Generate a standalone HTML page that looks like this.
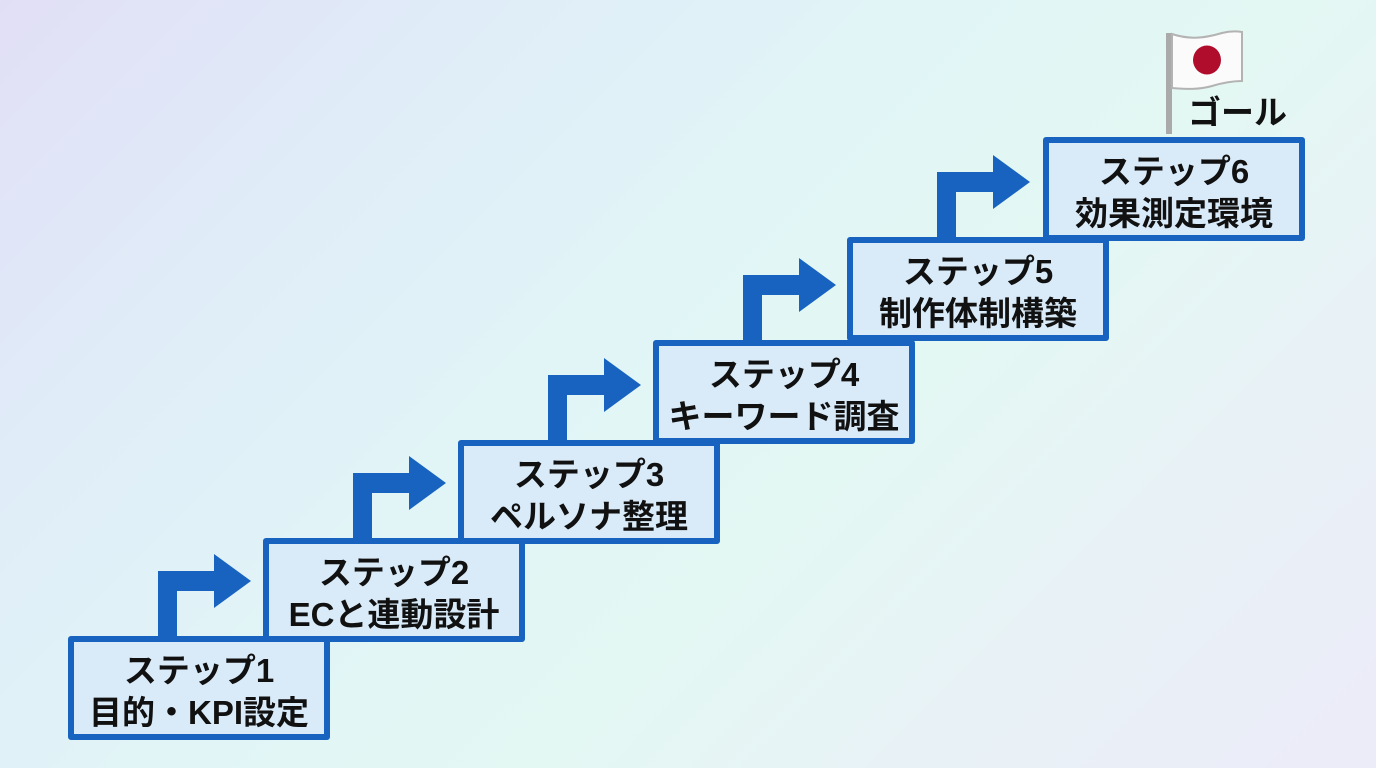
<!DOCTYPE html>
<html>
<head>
<meta charset="utf-8">
<style>
  html, body { margin:0; padding:0; }
  body {
    width:1376px; height:768px; overflow:hidden; position:relative;
    background: linear-gradient(135deg, #e1dff6 0%, #e0eef8 25%, #e1f5f6 45%, #e3f8f3 60%, #e8f2f6 78%, #ecebf8 100%);
    font-family: "Liberation Sans", "Noto Sans CJK JP", sans-serif;
  }
  .box {
    position:absolute; width:262px; height:104px; box-sizing:border-box;
    border:6px solid #1763bf; border-radius:3px; background:#d9ebf9;
  }
  .box .t {
    position:absolute; left:-6px; right:-6px; top:8px;
    text-align:center; font-weight:700; font-size:33px; line-height:42px; color:#111;
    font-family: "Liberation Sans", "Noto Sans CJK JP", sans-serif;
    white-space:nowrap;
  }
  svg { position:absolute; left:0; top:0; }
  .goal {
    position:absolute; left:1188px; top:95px; font-size:33px; line-height:36px;
    font-weight:700; color:#111; white-space:nowrap;
    font-family: "Liberation Sans", "Noto Sans CJK JP", sans-serif;
  }
</style>
</head>
<body>
<svg width="1376" height="768" viewBox="0 0 1376 768">
  <g fill="#1763bf">
    <polygon points="158,639 158,571 214,571 214,554 251,581 214,608 214,591 177,591 177,639"/>
    <polygon points="353,541 353,473 409,473 409,456 446,483 409,510 409,493 372,493 372,541"/>
    <polygon points="548,443 548,375 604,375 604,358 641,385 604,412 604,395 567,395 567,443"/>
    <polygon points="743,343 743,275 799,275 799,258 836,285 799,312 799,295 762,295 762,343"/>
    <polygon points="937,240 937,172 993,172 993,155 1030,182 993,209 993,192 956,192 956,240"/>
  </g>
  <!-- flag -->
  <rect x="1166" y="33" width="6" height="101" fill="#aaaaaa"/>
  <path d="M1172,34 C1190,40 1205,38 1222,33 C1230,31 1236,31 1242,32 L1242,81 C1232,81 1222,83 1212,86 C1198,90 1186,89 1172,88 Z"
        fill="#fbfbfb" stroke="#b3b3b3" stroke-width="2"/>
  <ellipse cx="1207" cy="60" rx="14" ry="14.5" fill="#b00d2c"/>
</svg>

<div class="goal">ゴール</div>

<div class="box" style="left:68px; top:636px;"><div class="t">ステップ1<br>目的・KPI設定</div></div>
<div class="box" style="left:263px; top:538px;"><div class="t">ステップ2<br>ECと連動設計</div></div>
<div class="box" style="left:458px; top:440px;"><div class="t">ステップ3<br>ペルソナ整理</div></div>
<div class="box" style="left:653px; top:340px;"><div class="t">ステップ4<br>キーワード調査</div></div>
<div class="box" style="left:847px; top:237px;"><div class="t">ステップ5<br>制作体制構築</div></div>
<div class="box" style="left:1043px; top:137px;"><div class="t">ステップ6<br>効果測定環境</div></div>
</body>
</html>
